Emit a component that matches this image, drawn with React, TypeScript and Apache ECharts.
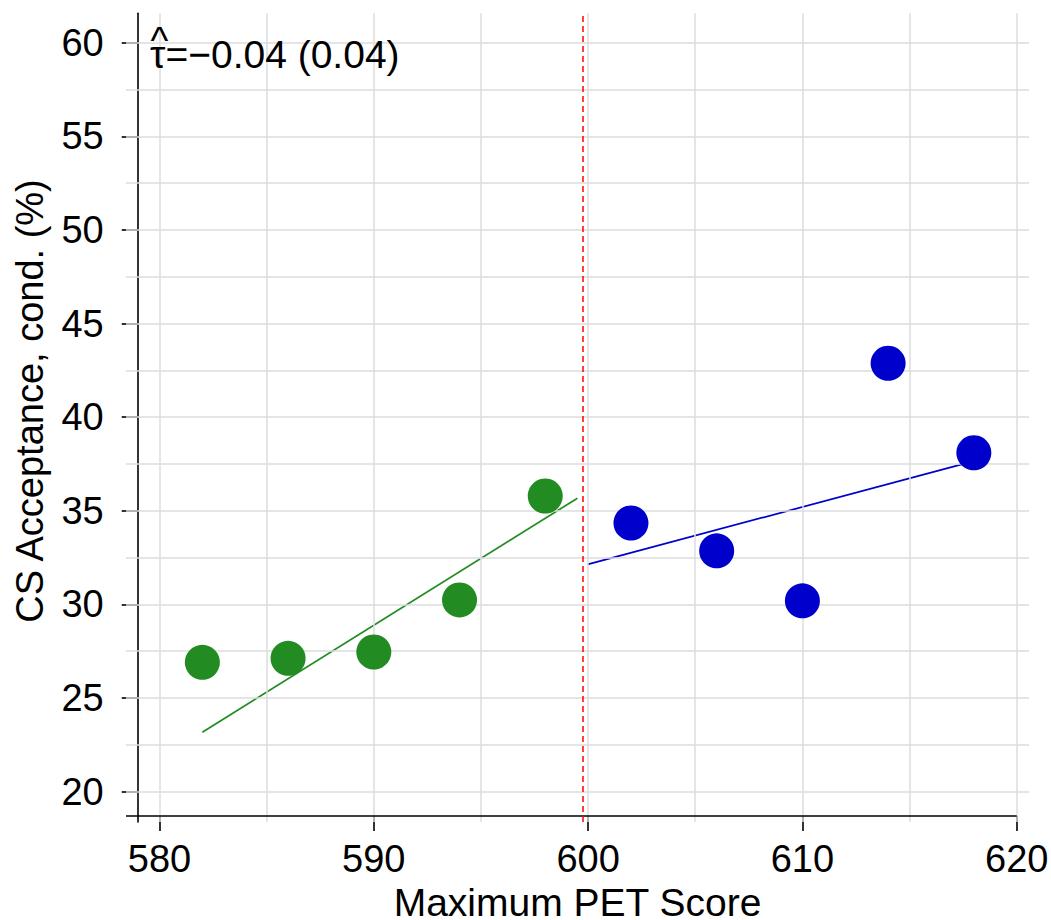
import React, { useEffect, useRef } from "react";
import * as echarts from "echarts";

// ---- data ----
const xTickValues = [580, 590, 600, 610, 620];
const yTickValues = [20, 25, 30, 35, 40, 45, 50, 55, 60];
const xGridValues = [580, 585, 590, 595, 600, 605, 610, 615, 620];
const yGridValues = [20, 22.5, 25, 27.5, 30, 32.5, 35, 37.5, 40, 42.5, 45, 47.5, 50, 52.5, 55, 57.5, 60];

const greenX = [582, 586, 590, 594, 598];
const greenY = [26.91, 27.12, 27.46, 30.24, 35.79];
const blueX = [602, 606, 610, 614, 618];
const blueY = [34.35, 32.86, 30.19, 42.88, 38.1];

const greenFitX = [582, 599.5];
const greenFitY = [23.17, 35.67];
const blueFitX = [599.98, 618];
const blueFitY = [32.14, 37.65];

const cutoff = 599.75;
const tauText = "τ=\u22120.04 (0.04)";
const hatText = "^";
const xTitle = "Maximum PET Score";
const yTitle = "CS Acceptance, cond. (%)";

// ---- axis extents ----
const X_MIN = 578.437;
const X_MAX = 620.574;
const Y_MIN = 18.38;
const Y_MAX = 61.57;
const X_AXIS_LINE_Y = 18.7;
const X_AXIS_LINE_END = 620;

const FONT = "'Liberation Sans', Arial, Helvetica, sans-serif";

const zip = (xs: number[], ys: number[]) => xs.map((x, i) => [x, ys[i]]);

export default function App() {
  const ref = useRef<HTMLDivElement>(null);
  useEffect(() => {
    if (!ref.current) return;
    const chart = echarts.init(ref.current, undefined, { renderer: "svg" });
    const option: any = {
      animation: false,
      backgroundColor: "#ffffff",
      textStyle: { fontFamily: FONT },
      grid: {
        left: 126,
        top: 13.3,
        width: 903,
        height: 808.7,
        containLabel: false,
        outerBoundsMode: "none",
      },
      xAxis: {
        type: "value",
        min: X_MIN,
        max: X_MAX,
        offset: -6,
        axisLine: { show: false },
        splitLine: { show: false },
        axisTick: {
          show: true,
          customValues: xTickValues,
          length: 15,
          lineStyle: { color: "#000", width: 1.6 },
        },
        axisLabel: {
          show: true,
          customValues: xTickValues,
          margin: 24,
          fontSize: 38,
          color: "#000",
          fontFamily: FONT,
          formatter: (v: number) => String(Math.round(v)),
        },
        name: xTitle,
        nameLocation: "middle",
        nameGap: 71.5,
        nameTextStyle: { fontSize: 39, lineHeight: 30, color: "#000", fontFamily: FONT },
      },
      yAxis: {
        type: "value",
        min: Y_MIN,
        max: Y_MAX,
        offset: -11.7,
        axisLine: { show: true, lineStyle: { color: "#000", width: 1.6 } },
        splitLine: { show: false },
        axisTick: {
          show: true,
          customValues: yTickValues,
          length: 16,
          lineStyle: { color: "#000", width: 1.6 },
        },
        axisLabel: {
          show: true,
          customValues: yTickValues,
          margin: 34,
          fontSize: 38,
          color: "#000",
          fontFamily: FONT,
          formatter: (v: number) => String(Math.round(v)),
        },
      },
      graphic: [
        {
          type: "text",
          x: 150,
          y: 54.8,
          style: {
            text: tauText,
            fontSize: 39,
            fontFamily: FONT,
            fill: "#000",
            align: "left",
            verticalAlign: "middle",
          },
          z: 10,
        },
        {
          type: "text",
          x: 159.5,
          y: 41,
          style: {
            text: hatText,
            fontSize: 38,
            lineHeight: 14,
            fontFamily: FONT,
            fill: "#000",
            align: "center",
            verticalAlign: "middle",
          },
          z: 10,
        },
        {
          type: "text",
          x: 30,
          y: 401,
          rotation: Math.PI / 2,
          style: {
            text: yTitle,
            fontSize: 38,
            fontFamily: FONT,
            fill: "#000",
            align: "center",
            verticalAlign: "middle",
          },
        },
      ],
      series: [
        {
          type: "line",
          data: [],
          z: 1,
          silent: true,
          markLine: {
            silent: true,
            symbol: ["none", "none"],
            label: { show: false },
            lineStyle: { color: "#dcdcdc", width: 1.5, type: "solid" },
            data: [
              ...xGridValues.map((v) => ({ xAxis: v })),
              ...yGridValues.map((v) => ({ yAxis: v })),
            ],
          },
        },
        {
          type: "line",
          data: [],
          z: 3,
          silent: true,
          markLine: {
            silent: true,
            symbol: ["none", "none"],
            label: { show: false },
            data: [
              [
                { coord: [X_MIN, X_AXIS_LINE_Y], lineStyle: { color: "#000", width: 1.6, type: "solid" } },
                { coord: [X_AXIS_LINE_END, X_AXIS_LINE_Y] },
              ],
              [
                { coord: [cutoff, Y_MIN], lineStyle: { color: "#ff0000", width: 1.5, type: [6, 4] } },
                { coord: [cutoff, Y_MAX] },
              ],
            ],
          },
        },
        {
          type: "line",
          data: zip(greenFitX, greenFitY),
          showSymbol: false,
          symbol: "none",
          lineStyle: { color: "#228B22", width: 1.7 },
          z: 4,
        },
        {
          type: "line",
          data: zip(blueFitX, blueFitY),
          showSymbol: false,
          symbol: "none",
          lineStyle: { color: "#0000CD", width: 1.7 },
          z: 4,
        },
        {
          type: "scatter",
          data: zip(greenX, greenY),
          symbol: "circle",
          symbolSize: 35,
          itemStyle: { color: "#228B22", opacity: 1 },
          z: 5,
        },
        {
          type: "scatter",
          data: zip(blueX, blueY),
          symbol: "circle",
          symbolSize: 35,
          itemStyle: { color: "#0000CD", opacity: 1 },
          z: 5,
        },
      ],
    };
    chart.setOption(option);
    return () => chart.dispose();
  }, []);
  return (
    <div
      ref={ref}
      style={{ position: "fixed", left: 0, top: 0, width: 1051, height: 920 }}
    />
  );
}
